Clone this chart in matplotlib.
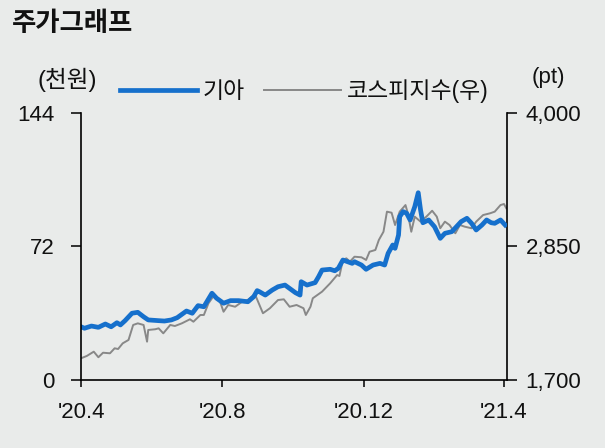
#!/usr/bin/env python3
"""
plot.py
Kia share price vs KOSPI, Apr 2020 - Apr 2021, two y axes.
"""

import numpy as np
import pandas as pd
import matplotlib
matplotlib.use("Agg")
import matplotlib.pyplot as plt
from matplotlib.ticker import FuncFormatter

# days counted from 2020-04-01
START_DATE = "2020-04-01"

kia_days = [0, 3, 9, 15, 21, 26, 31, 34, 38, 44, 49, 54, 58, 67, 72, 78, 83, 91, 96,
            101, 106, 113, 117, 123, 129, 136, 144, 149, 152, 154, 159, 165, 170,
            176, 185, 189, 190, 195, 202, 205, 208, 215, 219, 222, 226, 234, 236,
            242, 246, 252, 258, 262, 265, 269, 271, 274, 275, 278, 281, 284, 288,
            291, 293, 295, 300, 305, 310, 314, 320, 324, 328, 333, 337, 341, 346,
            350, 354, 357, 362, 366]
kia_price = [28.7, 27.9, 29.1, 28.4, 30.2, 28.7, 30.9, 29.7, 32.0, 36.0, 36.5, 34.1,
             32.4, 32.0, 31.8, 32.4, 33.6, 37.2, 36.0, 40.1, 39.5, 46.8, 44.1, 41.4,
             42.8, 42.8, 42.2, 44.9, 48.2, 47.6, 45.8, 48.5, 50.3, 51.2, 47.1, 45.8,
             53.0, 51.2, 52.5, 55.7, 59.3, 59.7, 58.9, 60.2, 64.7, 62.9, 63.8, 62.0,
             59.7, 62.0, 62.9, 62.0, 68.3, 72.8, 71.0, 78.2, 88.1, 90.8, 89.9, 86.3,
             93.5, 101.0, 91.7, 84.8, 86.3, 82.7, 76.4, 79.1, 80.0, 82.7, 85.4, 87.2,
             84.5, 80.9, 83.6, 86.3, 84.8, 84.5, 86.3, 83.6]

kospi_days = [0, 5, 11, 15, 19, 25, 29, 32, 36, 41, 45, 49, 54, 57, 58, 64, 67, 71,
              77, 81, 87, 94, 97, 103, 106, 110, 115, 120, 123, 127, 133, 139, 144,
              150, 154, 157, 163, 170, 175, 180, 186, 192, 194, 198, 200, 208, 215,
              221, 223, 226, 229, 232, 236, 242, 246, 249, 254, 257, 261, 264, 268,
              271, 275, 280, 282, 285, 288, 293, 298, 303, 307, 310, 314, 318, 323,
              327, 331, 337, 341, 347, 353, 357, 362, 365, 367]
kospi_index = [1887, 1907, 1944, 1896, 1935, 1930, 1973, 1967, 2016, 2045, 2174,
               2188, 2174, 2030, 2131, 2137, 2145, 2102, 2174, 2165, 2188, 2223,
               2202, 2260, 2260, 2361, 2432, 2374, 2288, 2346, 2331, 2374, 2389,
               2441, 2346, 2275, 2318, 2389, 2395, 2331, 2346, 2318, 2260, 2331,
               2404, 2461, 2533, 2604, 2596, 2734, 2748, 2719, 2762, 2757, 2734,
               2805, 2820, 2906, 2977, 3150, 3141, 3035, 3150, 3207, 3136, 2977,
               3107, 3064, 3107, 3158, 3107, 3007, 3064, 3035, 2964, 3035, 3021,
               3007, 3064, 3121, 3136, 3150, 3207, 3216, 3179]

tick_dates = ["2020-04-01", "2020-08-01", "2020-12-01", "2021-04-01"]
tick_labels = ["'20.4", "'20.8", "'20.12", "'21.4"]
left_ticks = [0, 72, 144]
right_ticks = [1700, 2850, 4000]

BG = "#e9ebea"
BLUE = "#1670cc"
GREY = "#888888"
TXT = "#111111"

plt.rcParams["font.family"] = ["Liberation Sans", "Noto Sans CJK KR", "DejaVu Sans"]


def to_dates(days):
    return pd.Timestamp(START_DATE) + pd.to_timedelta(np.array(days), unit="D")


def main():
    fig = plt.figure(figsize=(6.05, 4.48), dpi=100, facecolor=BG)
    ax = fig.add_axes([0.1339, 0.1518, 0.7049, 0.596])
    ax2 = ax.twinx()

    line2, = ax2.plot(to_dates(kospi_days), kospi_index, color=GREY, lw=1.4,
                      label="코스피지수(우)")
    line1, = ax.plot(to_dates(kia_days), kia_price, color=BLUE, lw=3.4,
                     label="기아", solid_joinstyle="round")

    # blue on top of grey
    ax.set_zorder(ax2.get_zorder() + 1)
    ax.patch.set_visible(False)
    ax2.patch.set_facecolor(BG)

    ax.set_xlim(pd.Timestamp(START_DATE), pd.Timestamp(START_DATE) + pd.Timedelta(days=368))
    ax.set_ylim(0, 144)
    ax2.set_ylim(1700, 4000)

    ax.set_xticks(pd.to_datetime(tick_dates))
    ax.set_xticklabels(tick_labels)
    ax.set_yticks(left_ticks)
    ax2.set_yticks(right_ticks)
    ax2.yaxis.set_major_formatter(FuncFormatter(lambda v, p: "{:,.0f}".format(v)))

    for a in (ax, ax2):
        a.spines["top"].set_visible(False)
        for s in a.spines.values():
            s.set_linewidth(1.2)
            s.set_color("black")
    ax.spines["right"].set_visible(False)
    ax2.spines["left"].set_visible(False)
    ax2.spines["bottom"].set_visible(False)

    ax.tick_params(axis="y", direction="out", length=7, width=1.2, pad=12,
                   labelsize=16, colors=TXT)
    ax.tick_params(axis="x", direction="out", length=5, width=1.2, pad=11,
                   labelsize=16, colors=TXT)
    ax2.tick_params(axis="y", direction="out", length=7, width=1.2, pad=6,
                    labelsize=16, colors=TXT)

    fig.text(0.02, 0.948, "주가그래프", fontsize=19, fontweight="bold",
             color=TXT, ha="left", va="center",
             family=["Noto Sans CJK KR", "DejaVu Sans"])
    fig.text(0.111, 0.822, "(천원)", fontsize=17, color=TXT, ha="center", va="center")
    fig.text(0.906, 0.826, "(pt)", fontsize=16, color=TXT, ha="center", va="center")

    leg = fig.legend(handles=[line1, line2], loc="center left",
                     bbox_to_anchor=(0.198, 0.797), ncol=2, frameon=False,
                     fontsize=16.5, handlelength=3.36, handletextpad=0.26,
                     columnspacing=0.83, borderpad=0, borderaxespad=0)
    for t in leg.get_texts():
        t.set_color(TXT)

    fig.savefig("out.png", dpi=100, facecolor=BG)


if __name__ == "__main__":
    main()
